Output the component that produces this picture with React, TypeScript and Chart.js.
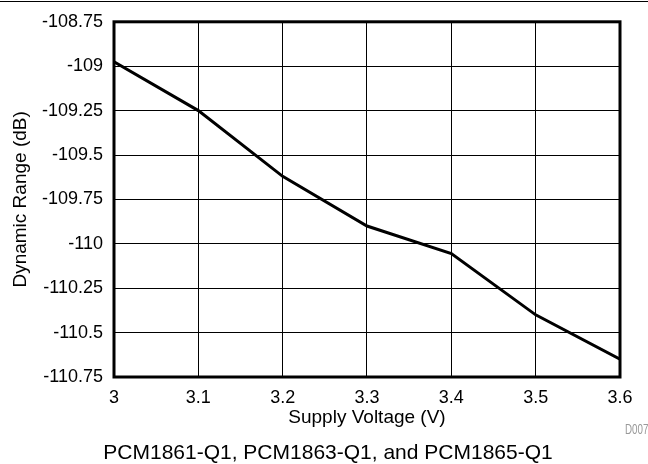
import { useEffect, useRef } from "react";
import { Chart, registerables } from "chart.js";

Chart.register(...registerables);

// Dane
const voltages = [3.0, 3.1, 3.2, 3.3, 3.4, 3.5, 3.6];
const dynamicRange = [-108.975, -109.25, -109.62, -109.9, -110.055, -110.4, -110.65];

const xTicks = { min: 3, max: 3.6, step: 0.1 };
const yTicks = { min: -110.75, max: -108.75, step: 0.25 };

const xTitle = "Supply Voltage (V)";
const yTitle = "Dynamic Range (dB)";
const caption = "PCM1861-Q1, PCM1863-Q1, and PCM1865-Q1";
const figureId = "D007";

const FONT = "'Liberation Sans', Arial, Helvetica, sans-serif";

// Gruba ramka wokół obszaru wykresu
const framePlugin = {
  id: "frame",
  afterDraw(chart: Chart) {
    const { ctx, chartArea } = chart;
    ctx.save();
    ctx.strokeStyle = "#000";
    ctx.lineWidth = 3;
    ctx.strokeRect(
      chartArea.left,
      chartArea.top,
      chartArea.right - chartArea.left,
      chartArea.bottom - chartArea.top
    );
    ctx.restore();
  },
};

export default function App() {
  const canvasRef = useRef<HTMLCanvasElement | null>(null);

  useEffect(() => {
    if (!canvasRef.current) return;

    const chart = new Chart(canvasRef.current, {
      type: "line",
      data: {
        datasets: [
          {
            data: voltages.map((v, i) => ({ x: v, y: dynamicRange[i] })),
            borderColor: "#000",
            borderWidth: 3,
            pointRadius: 0,
            tension: 0,
          },
        ],
      },
      options: {
        animation: false,
        responsive: true,
        maintainAspectRatio: false,
        layout: { padding: { left: 0, right: 28, top: 16, bottom: 35 } },
        plugins: {
          legend: { display: false },
          tooltip: { enabled: false },
        },
        scales: {
          x: {
            type: "linear",
            min: xTicks.min,
            max: xTicks.max,
            afterFit: (scale: any) => {
              scale.height = 52;
            },
            grid: { color: "#000", lineWidth: 1, drawTicks: false },
            border: { display: false },
            ticks: {
              stepSize: xTicks.step,
              padding: 10,
              color: "#000",
              font: { family: FONT, size: 18 },
              maxRotation: 0,
              autoSkip: false,
              callback: (v: any) => String(Number(Number(v).toFixed(1))),
            },
            title: {
              display: true,
              text: xTitle,
              color: "#000",
              font: { family: FONT, size: 19 },
              padding: { top: 0, bottom: 0 },
            },
          },
          y: {
            min: yTicks.min,
            max: yTicks.max,
            afterFit: (scale: any) => {
              scale.width = 114;
            },
            grid: { color: "#000", lineWidth: 1, drawTicks: false },
            border: { display: false },
            ticks: {
              stepSize: yTicks.step,
              padding: 11,
              color: "#000",
              font: { family: FONT, size: 18 },
              autoSkip: false,
              callback: (v: any) => String(Number(Number(v).toFixed(2))),
            },
            title: {
              display: true,
              text: yTitle,
              color: "#000",
              font: { family: FONT, size: 19 },
              padding: { top: 9, bottom: 0 },
            },
          },
        },
      },
      plugins: [framePlugin],
    });

    return () => {
      chart.destroy();
    };
  }, []);

  return (
    <div
      style={{
        position: "fixed",
        left: 0,
        top: 0,
        width: 648,
        height: 464,
        background: "#fff",
        fontFamily: FONT,
      }}
    >
      <div
        style={{
          position: "absolute",
          left: 0,
          top: 1,
          width: 648,
          height: 1,
          background: "#000",
        }}
      />
      <div style={{ position: "absolute", left: 0, top: 0, width: 648, height: 464 }}>
        <canvas ref={canvasRef} />
      </div>
      <div
        style={{
          position: "absolute",
          right: 0,
          top: 422,
          fontSize: 14,
          lineHeight: "15px",
          color: "#999",
          transform: "scaleX(0.7)",
          transformOrigin: "right center",
        }}
      >
        {figureId}
      </div>
      <div
        style={{
          position: "absolute",
          left: 4,
          top: 440,
          width: 648,
          textAlign: "center",
          fontSize: 21,
          lineHeight: "24px",
          color: "#000",
        }}
      >
        {caption}
      </div>
    </div>
  );
}
